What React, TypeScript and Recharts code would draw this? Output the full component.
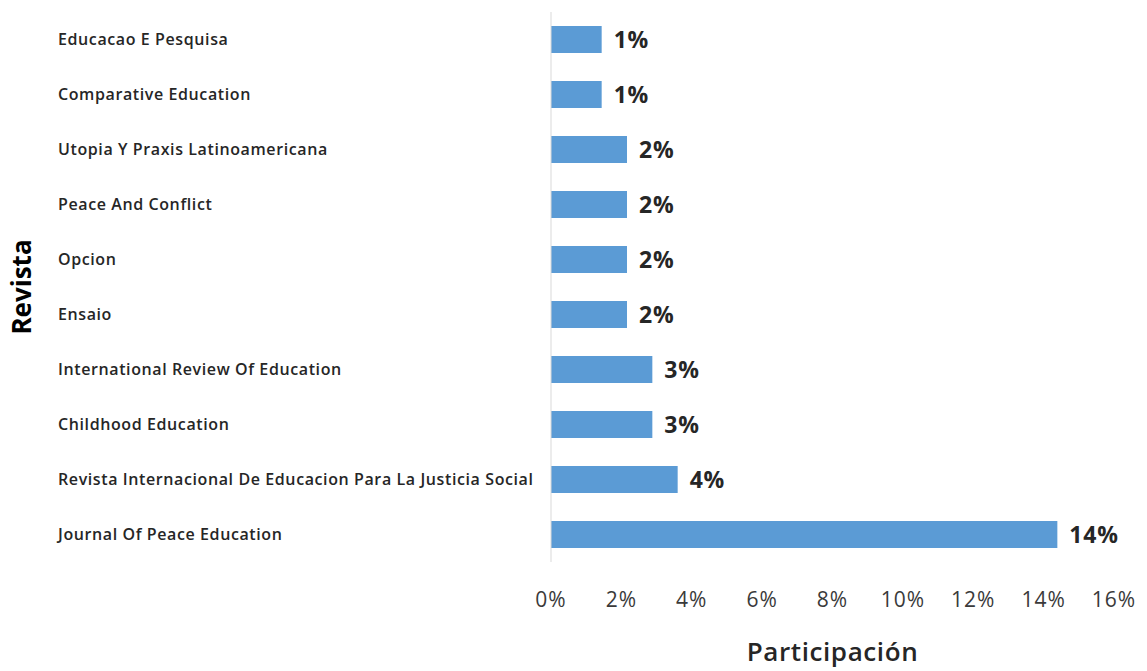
import React from "react";
import { BarChart, Bar, XAxis, YAxis, LabelList } from "recharts";

const categories = [
  "Educacao E Pesquisa",
  "Comparative Education",
  "Utopia Y Praxis Latinoamericana",
  "Peace And Conflict",
  "Opcion",
  "Ensaio",
  "International Review Of Education",
  "Childhood Education",
  "Revista Internacional De Educacion Para La Justicia Social",
  "Journal Of Peace Education",
];
const shares = [1.44, 1.44, 2.16, 2.16, 2.16, 2.16, 2.88, 2.88, 3.6, 14.39];
const xTicks = [0, 2, 4, 6, 8, 10, 12, 14, 16];

const data = categories.map((name, i) => ({ name, value: shares[i] }));

const FONT = "'Open Sans', 'Noto Sans', sans-serif";

const CatTick = (props: any) => {
  const { y, payload } = props;
  return (
    <text
      x={58}
      y={y}
      dy={5}
      textAnchor="start"
      fontFamily={FONT}
      fontSize={16}
      fontWeight={600}
      letterSpacing={0.6}
      fill="#262626"
    >
      {payload.value}
    </text>
  );
};

const NumTick = (props: any) => {
  const { x, y, payload } = props;
  return (
    <text
      x={x}
      y={y}
      dy={37}
      textAnchor="middle"
      fontFamily={FONT}
      fontSize={21}
      letterSpacing={1}
      fill="#3a3a3a"
    >
      {`${payload.value}%`}
    </text>
  );
};

export default function App() {
  return (
    <div style={{ position: "absolute", left: 0, top: 0, background: "#fff" }}>
      <BarChart
        width={1147}
        height={671}
        data={data}
        layout="vertical"
        margin={{ top: 12, right: 33, left: 0, bottom: 0 }}
      >
        <XAxis
          type="number"
          domain={[0, 16]}
          ticks={xTicks}
          axisLine={false}
          tickLine={false}
          tick={<NumTick />}
          interval={0}
          height={109}
          label={{
            value: "Participación",
            position: "insideBottom",
            offset: 10,
            style: {
              fontFamily: FONT,
              fontSize: 26,
              fontWeight: 600,
              letterSpacing: 0.6,
              fill: "#262626",
            },
          }}
        />
        <YAxis
          type="category"
          dataKey="name"
          width={551}
          axisLine={{ stroke: "#D9D9D9" }}
          tickLine={false}
          tick={<CatTick />}
          interval={0}
          label={{
            value: "Revista",
            angle: -90,
            position: "insideLeft",
            offset: 0,
            dx: 22,
            style: {
              fontFamily: FONT,
              fontSize: 26,
              fontWeight: 700,
              fill: "#000",
              textAnchor: "middle",
            },
          }}
        />
        <Bar dataKey="value" fill="#5B9BD5" barSize={27} isAnimationActive={false}>
          <LabelList
            dataKey="value"
            position="right"
            offset={12}
            formatter={(v: any) => `${Math.round(Number(v))}%`}
            style={{
              fontFamily: FONT,
              fontSize: 23,
              fontWeight: 700,
              letterSpacing: 0.8,
              fill: "#262626",
            }}
          />
        </Bar>
      </BarChart>
    </div>
  );
}
